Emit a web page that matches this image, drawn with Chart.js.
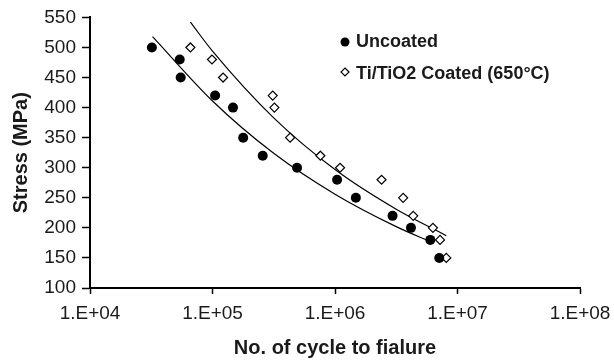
<!DOCTYPE html>
<html>
<head>
<meta charset="utf-8">
<script src="https://cdn.jsdelivr.net/npm/chart.js@4.4.0/dist/chart.umd.min.js"></script>
<style>
  body { margin: 0; background: #fff; }
</style>
</head>
<body>
<canvas id="snChart" width="614" height="360"></canvas>
<script>
// S-N data
const uncoatedCycles = [32000, 54000, 55000, 105000, 147000, 178000, 257000, 490000, 1040000, 1480000, 2950000, 4170000, 6000000, 7100000];
const uncoatedStress = [500, 480, 450, 420, 400, 350, 320, 300, 280, 250, 220, 200, 180, 150];
const coatedCycles = [66000, 99000, 122000, 310000, 320000, 430000, 760000, 1100000, 2400000, 3600000, 4350000, 6300000, 7200000, 8100000];
const coatedStress = [500, 480, 450, 420, 400, 350, 320, 300, 280, 250, 220, 200, 180, 150];

// trend lines, points
const uncoatedTrendCycles = [32400, 100000, 316000, 1000000, 3160000, 6000000];
const uncoatedTrendStress = [518, 411, 324, 256, 202, 177];
const coatedTrendCycles = [66000, 100000, 316000, 1000000, 3160000, 8100000];
const coatedTrendStress = [542, 494, 383, 297, 231, 187];

const xTickValues = [1e4, 1e5, 1e6, 1e7, 1e8];
const legendLabels = ['Uncoated', 'Ti/TiO2 Coated (650\u00b0C)'];

function toPoints(xs, ys) {
    return xs.map((x, i) => ({ x: x, y: ys[i] }));
}

const fontFamily = '"Liberation Sans", Arial, Helvetica, sans-serif';

// legend drawn inside the plot, like the original
const innerLegend = {
    id: 'innerLegend',
    afterDraw(chart) {
        const ctx = chart.ctx;
        ctx.save();
        ctx.font = 'bold 18px ' + fontFamily;
        ctx.textBaseline = 'middle';
        ctx.textAlign = 'left';

        // filled circle
        ctx.beginPath();
        ctx.arc(345, 42, 4.5, 0, Math.PI * 2);
        ctx.fillStyle = '#000';
        ctx.fill();
        ctx.fillStyle = '#1a1a1a';
        ctx.fillText(legendLabels[0], 356, 42);

        // open diamond
        ctx.beginPath();
        ctx.moveTo(345, 68);
        ctx.lineTo(349, 72);
        ctx.lineTo(345, 76);
        ctx.lineTo(341, 72);
        ctx.closePath();
        ctx.fillStyle = '#fff';
        ctx.fill();
        ctx.strokeStyle = '#000';
        ctx.lineWidth = 1.2;
        ctx.stroke();
        ctx.fillStyle = '#1a1a1a';
        ctx.fillText(legendLabels[1], 356, 74);
        ctx.restore();
    }
};

const ctx = document.getElementById('snChart').getContext('2d');
const snChart = new Chart(ctx, {
    type: 'scatter',
    data: {
        datasets: [{
            label: legendLabels[0],
            data: toPoints(uncoatedCycles, uncoatedStress),
            pointStyle: 'circle',
            pointRadius: 5,
            backgroundColor: '#000',
            borderColor: '#000',
            borderWidth: 0
        }, {
            label: legendLabels[1],
            data: toPoints(coatedCycles, coatedStress),
            pointStyle: 'rectRot',
            pointRadius: 4.5,
            backgroundColor: '#fff',
            borderColor: '#000',
            borderWidth: 1.2
        }, {
            label: 'Uncoated trend',
            data: toPoints(uncoatedTrendCycles, uncoatedTrendStress),
            showLine: true,
            pointRadius: 0,
            borderColor: '#000',
            borderWidth: 1.2,
            tension: 0.4,
            cubicInterpolationMode: 'monotone'
        }, {
            label: 'Coated trend',
            data: toPoints(coatedTrendCycles, coatedTrendStress),
            showLine: true,
            pointRadius: 0,
            borderColor: '#000',
            borderWidth: 1.2,
            tension: 0.4,
            cubicInterpolationMode: 'monotone'
        }]
    },
    options: {
        responsive: false,
        animation: false,
        layout: {
            padding: { top: 15, right: 34, left: 0, bottom: 0 }
        },
        scales: {
            x: {
                type: 'logarithmic',
                min: 1e4,
                max: 1e8,
                afterBuildTicks: function(scale) {
                    scale.ticks = xTickValues.map(v => ({ value: v }));
                },
                afterFit: function(scale) {
                    scale.height = 72;
                    // keep the plot right edge fixed, the last label may hang over
                    scale.paddingRight = 0;
                    scale.paddingLeft = 0;
                },
                ticks: {
                    color: '#1a1a1a',
                    padding: 8,
                    maxRotation: 0,
                    font: { family: fontFamily, size: 19 },
                    callback: function(value) {
                        const exp = Math.round(Math.log10(value));
                        return '1.E+' + String(exp).padStart(2, '0');
                    }
                },
                grid: {
                    drawOnChartArea: false,
                    drawTicks: true,
                    tickLength: 6,
                    tickColor: '#000',
                    tickWidth: 1.5
                },
                border: { display: true, color: '#000', width: 2 },
                title: {
                    display: true,
                    text: 'No. of cycle to fialure',
                    color: '#1a1a1a',
                    padding: { top: 0, bottom: 0 },
                    font: { family: fontFamily, size: 20, weight: 'bold' }
                }
            },
            y: {
                min: 100,
                max: 550,
                afterFit: function(scale) {
                    scale.width = 90;
                },
                ticks: {
                    stepSize: 50,
                    color: '#1a1a1a',
                    padding: 6,
                    font: { family: fontFamily, size: 19 }
                },
                grid: {
                    drawOnChartArea: false,
                    drawTicks: true,
                    tickLength: 8,
                    tickColor: '#000',
                    tickWidth: 1.5
                },
                border: { display: true, color: '#000', width: 2 },
                title: {
                    display: true,
                    text: 'Stress (MPa)',
                    color: '#1a1a1a',
                    padding: { top: 9, bottom: 0 },
                    font: { family: fontFamily, size: 20, weight: 'bold' }
                }
            }
        },
        plugins: {
            legend: { display: false },
            tooltip: { enabled: false }
        }
    },
    plugins: [innerLegend]
});
</script>
</body>
</html>
